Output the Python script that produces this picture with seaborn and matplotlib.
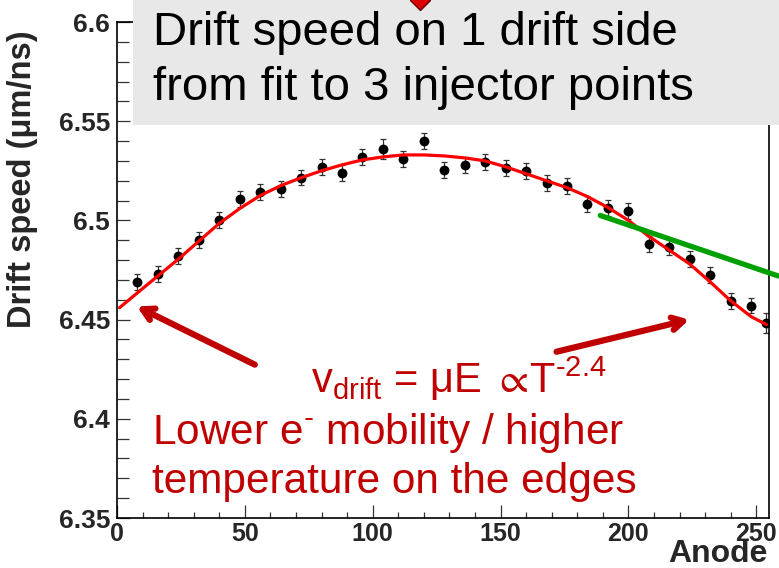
import numpy as np
import pandas as pd
import matplotlib
matplotlib.use("Agg")
import matplotlib.pyplot as plt
import matplotlib.patches as mpatches
import seaborn as sns

# ------------------------------------------------------------
# Data
# ------------------------------------------------------------
anode = [8, 16, 24, 32, 40, 48, 56, 64, 72, 80, 88, 96, 104, 112, 120, 128,
         136, 144, 152, 160, 168, 176, 184, 192, 200, 208, 216, 224, 232, 240, 248, 254]
speed = [6.469, 6.473, 6.482, 6.490, 6.500, 6.5106, 6.5145, 6.516, 6.5216, 6.527,
         6.524, 6.532, 6.536, 6.531, 6.540, 6.5256, 6.528, 6.5295, 6.5263, 6.5247,
         6.5187, 6.5173, 6.5084, 6.5062, 6.5047, 6.4882, 6.4867, 6.4807, 6.4724,
         6.4592, 6.4571, 6.4483]
speed_err = [0.004, 0.004, 0.004, 0.004, 0.004, 0.004, 0.004, 0.004, 0.004, 0.004,
             0.004, 0.004, 0.005, 0.004, 0.004, 0.004, 0.004, 0.004, 0.004, 0.004,
             0.004, 0.004, 0.004, 0.004, 0.004, 0.004, 0.004, 0.004, 0.004, 0.004,
             0.004, 0.005]

# red fit curve
fit_x = [1, 8, 16, 24, 32, 40, 48, 56, 64, 72, 80, 88, 96, 104, 112, 120, 128, 136,
         144, 152, 160, 168, 176, 184, 192, 200, 208, 216, 224, 232, 240, 248, 254]
fit_y = [6.456, 6.4635, 6.472, 6.4805, 6.4895, 6.4985, 6.506, 6.5125, 6.5175, 6.5215,
         6.525, 6.528, 6.5305, 6.532, 6.533, 6.533, 6.5325, 6.5315, 6.530, 6.527,
         6.5235, 6.520, 6.5165, 6.512, 6.5065, 6.500, 6.492, 6.485, 6.478, 6.469,
         6.4595, 6.4515, 6.4475]

# green tangent line
tan_x = [189, 258.6]
tan_y = [6.5025, 6.472]

x_ticks = [0, 50, 100, 150, 200, 250]
y_ticks = [6.35, 6.4, 6.45, 6.5, 6.55, 6.6]
y_tick_labels = ["6.35", "6.4", "6.45", "6.5", "6.55", "6.6"]

df = pd.DataFrame({"anode": anode, "speed": speed, "err": speed_err})
fit_df = pd.DataFrame({"anode": fit_x, "speed": fit_y})
tan_df = pd.DataFrame({"anode": tan_x, "speed": tan_y})

# ------------------------------------------------------------
# Style
# ------------------------------------------------------------
sns.set_style("ticks")
plt.rcParams["font.family"] = ["Liberation Sans", "DejaVu Sans"]
plt.rcParams["mathtext.fontset"] = "custom"
plt.rcParams["mathtext.rm"] = "Liberation Sans"
plt.rcParams["mathtext.it"] = "Liberation Sans"
plt.rcParams["mathtext.default"] = "regular"

W, H = 779, 568
fig = plt.figure(figsize=(W / 100, H / 100), dpi=100)
ax = fig.add_axes([117 / W, 1 - 518 / H, (769 - 117) / W, (518 - 22) / H])


def fpx(x, y):
    # pixel position in the picture -> figure fraction
    return x / W, 1 - y / H


dark_red = "#c00000"

# ------------------------------------------------------------
# Marks
# ------------------------------------------------------------
ax.errorbar(df["anode"], df["speed"], yerr=df["err"], fmt="none",
            ecolor="#333333", elinewidth=0.9, capsize=2.5, capthick=0.9, zorder=2)
sns.scatterplot(data=df, x="anode", y="speed", color="black", s=50,
                edgecolor="black", linewidth=0, ax=ax, zorder=3)
sns.lineplot(data=fit_df, x="anode", y="speed", color="#ff0000", linewidth=2.3,
             ax=ax, zorder=4)
sns.lineplot(data=tan_df, x="anode", y="speed", color="#00a000", linewidth=3.8,
             ax=ax, zorder=4, clip_on=False)

# ------------------------------------------------------------
# Axes
# ------------------------------------------------------------
ax.set_xlim(0, 255)
ax.set_ylim(6.35, 6.6)
ax.set_xticks(x_ticks)
ax.set_xticks(np.arange(0, 256, 10), minor=True)
ax.set_yticks(y_ticks)
ax.set_yticklabels(y_tick_labels)
ax.set_yticks(np.arange(6.35, 6.6001, 0.01), minor=True)
ax.tick_params(axis="both", which="both", direction="in", width=0.9, color="#333333")
ax.tick_params(axis="y", which="major", labelsize=19, pad=5, length=9.5)
ax.tick_params(axis="x", which="major", labelsize=18, pad=3, length=9.5)
ax.tick_params(axis="y", which="minor", length=8.5)
ax.tick_params(axis="x", which="minor", length=4.5)
for lab in ax.get_xticklabels() + ax.get_yticklabels():
    lab.set_fontweight("bold")
for s in ax.spines.values():
    s.set_linewidth(1.2)
    s.set_color("black")

ax.set_xlabel("Anode", loc="right", fontsize=23, fontweight="bold")
ax.xaxis.label.set_va("baseline")
ax.xaxis.set_label_coords((768 - 117) / 652, (518 - 562) / 496)
ax.set_ylabel("Drift speed (\u03bcm/ns)", fontsize=23.5, fontweight="bold")
ax.yaxis.set_label_coords((38 - 117) / 652, (518 - 179) / 496)

# ------------------------------------------------------------
# Annotations
# ------------------------------------------------------------
box = mpatches.Rectangle(fpx(133, 125), (W - 133) / W, 125 / H,
                         transform=fig.transFigure, facecolor="#e8e8e8",
                         edgecolor="none", zorder=5)
fig.add_artist(box)
fig.text(*fpx(153, 45), "Drift speed on 1 drift side", fontsize=34,
         color="black", va="baseline", ha="left", zorder=6)
fig.text(*fpx(153, 100), "from fit to 3 injector points", fontsize=34,
         color="black", va="baseline", ha="left", zorder=6)

# small red arrow tip peeking in at the top
fig.add_artist(plt.Line2D([420 / W], [1.0], marker="D", markersize=10,
                          markerfacecolor="#dd0000", markeredgecolor="#660000",
                          transform=fig.transFigure, zorder=7, clip_on=False))

fig.text(*fpx(311, 393), "v$_{drift}$ = \u03bcE $\\propto\\!$T$^{\u2010 2.4}$",
         fontsize=30, color=dark_red, va="baseline", ha="left")
fig.text(*fpx(152, 444), "Lower e$^{\u2010}$ mobility / higher", fontsize=30.5,
         color=dark_red, va="baseline", ha="left")
fig.text(*fpx(152, 493), "temperature on the edges", fontsize=30.5,
         color=dark_red, va="baseline", ha="left")

arrow_props = dict(arrowstyle="->, head_length=0.8, head_width=0.45",
                   color=dark_red, lw=4.5, shrinkA=0, shrinkB=0)
ax.annotate("", xy=(7.8, 6.4566), xytext=(53.9, 6.4273), arrowprops=arrow_props)
ax.annotate("", xy=(223.8, 6.4500), xytext=(171.9, 6.4338), arrowprops=arrow_props)

fig.savefig("out.png", dpi=100)
